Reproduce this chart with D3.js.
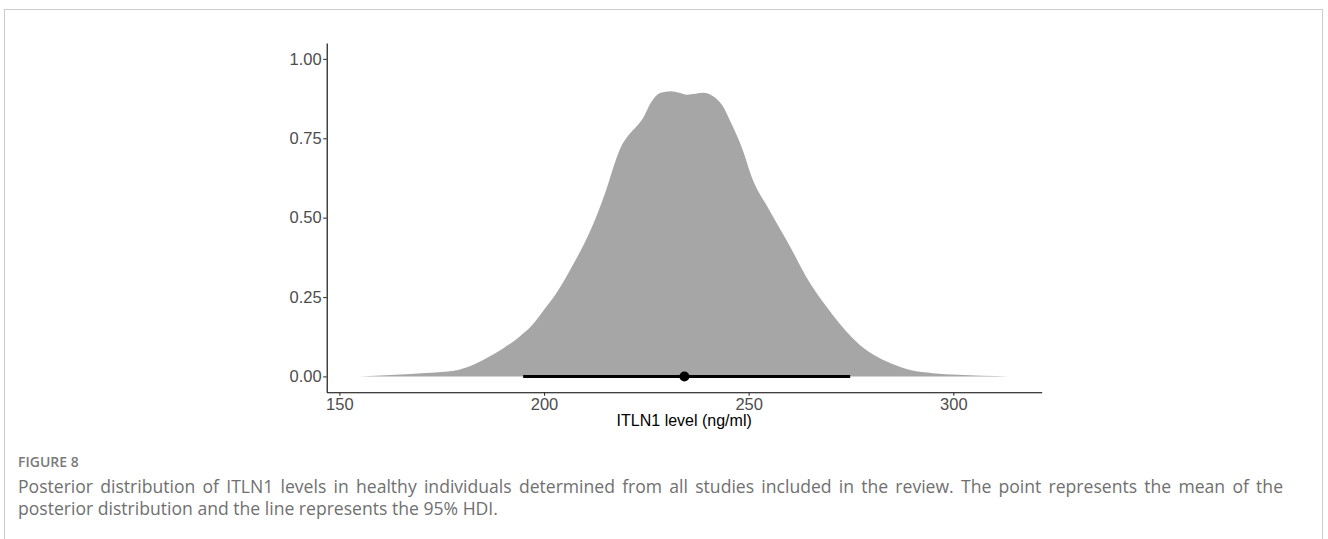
<!DOCTYPE html>
<html>
<head>
<meta charset="utf-8">
<script src="https://cdn.jsdelivr.net/npm/d3@7"></script>
<style>
  html, body { margin: 0; padding: 0; background: #fff; }
  svg { display: block; }
</style>
</head>
<body>
<svg id="chart" width="1328" height="539"></svg>
<script>
// ---- Data ----
const xValues = [155, 160, 165, 170, 175, 178, 182, 186, 190, 194, 197, 200, 203, 207, 211, 215, 217.5, 219, 220.5, 224, 226.5, 228.5, 231, 233, 235, 237, 239, 241, 243.5, 246, 248.5, 251, 255, 260.5, 264, 269, 275, 278, 280.5, 285, 289.5, 295, 301, 307, 313.5];
const densityValues = [0, 0.003, 0.006, 0.010, 0.014, 0.018, 0.033, 0.058, 0.088, 0.125, 0.16, 0.21, 0.262, 0.35, 0.45, 0.58, 0.68, 0.728, 0.757, 0.81, 0.87, 0.893, 0.898, 0.893, 0.887, 0.89, 0.893, 0.885, 0.855, 0.79, 0.715, 0.62, 0.525, 0.40, 0.315, 0.22, 0.126, 0.09, 0.068, 0.04, 0.02, 0.01, 0.005, 0.002, 0];
const hdiBounds = [194.9, 274.8];
const meanValue = 234.3;
const xTickValues = [150, 200, 250, 300];
const yTickValues = [0, 0.25, 0.5, 0.75, 1];
const xTitle = "ITLN1 level (ng/ml)";
const figureLabel = "FIGURE 8";
const captionLines = [
  "Posterior distribution of ITLN1 levels in healthy individuals determined from all studies included in the review. The point represents the mean of the",
  "posterior distribution and the line represents the 95% HDI."
];

// ---- Layout ----
const svg = d3.select("#chart");
const panel = { left: 326.7, right: 1041.7, top: 43, bottom: 392.3 };

// frame
svg.append("rect")
  .attr("x", 4.5).attr("y", 9.5)
  .attr("width", 1318).attr("height", 600)
  .attr("fill", "none").attr("stroke", "#cccccc").attr("stroke-width", 1);

const x = d3.scaleLinear().domain([146.9, 321.6]).range([panel.left, panel.right]);
const y = d3.scaleLinear().domain([-0.05, 1.05]).range([panel.bottom, panel.top]);

const pts = xValues.map((v, i) => ({ v, d: densityValues[i] }));

// slab
const area = d3.area()
  .x(p => x(p.v))
  .y0(y(0))
  .y1(p => y(p.d))
  .curve(d3.curveMonotoneX);

svg.append("path")
  .datum(pts)
  .attr("d", area)
  .attr("fill", "#a6a6a6");

// interval
svg.append("line")
  .attr("x1", x(hdiBounds[0])).attr("x2", x(hdiBounds[1]))
  .attr("y1", y(0)).attr("y2", y(0))
  .attr("stroke", "#000").attr("stroke-width", 3);

svg.append("circle")
  .attr("cx", x(meanValue)).attr("cy", y(0)).attr("r", 5)
  .attr("fill", "#000");

// axes
const font = "'Liberation Sans', Arial, sans-serif";

const yAxis = svg.append("g")
  .attr("transform", `translate(${panel.left},0)`)
  .call(d3.axisLeft(y).tickValues(yTickValues).tickFormat(d3.format(".2f")).tickSize(3.5).tickSizeOuter(0).tickPadding(1.5));

const xAxis = svg.append("g")
  .attr("transform", `translate(0,${panel.bottom})`)
  .call(d3.axisBottom(x).tickValues(xTickValues).tickFormat(d3.format("d")).tickSize(3.5).tickSizeOuter(0).tickPadding(2));

[yAxis, xAxis].forEach(g => {
  g.select(".domain").attr("stroke", "#000").attr("stroke-width", 1.1);
  g.selectAll(".tick line").attr("stroke", "#333").attr("stroke-width", 1.1);
  g.selectAll(".tick text")
    .attr("fill", "#4d4d4d")
    .style("font-family", font)
    .style("font-size", "16.5px");
});

svg.append("text")
  .attr("x", (panel.left + panel.right) / 2)
  .attr("y", 426)
  .attr("text-anchor", "middle")
  .style("font-family", font)
  .style("font-size", "16px")
  .attr("fill", "#000")
  .text(xTitle);

// caption
const capFont = "'Open Sans', Lato, sans-serif";
svg.append("text")
  .attr("x", 18).attr("y", 467)
  .style("font-family", "'Open Sans', sans-serif")
  .style("font-size", "14px")
  .style("font-weight", "600")
  .attr("fill", "#7a7a7a")
  .text(figureLabel);

const capTexts = svg.selectAll("text.cap")
  .data(captionLines)
  .enter().append("text")
  .attr("class", "cap")
  .attr("x", 18)
  .attr("y", (d, i) => 493 + i * 21.5)
  .style("font-family", capFont)
  .style("font-size", "16px")
  .attr("fill", "#707070")
  .text(d => d);

// justified caption: last line keeps natural width, first line stretched
const nodes = capTexts.nodes();
const lastTarget = 480;   // natural width of last line in the reference
const fullTarget = 1265;  // justified line width
const w2 = nodes[1].getComputedTextLength();
const fs = Math.max(14, Math.min(19, 16 * lastTarget / w2));
capTexts.style("font-size", fs.toFixed(2) + "px");
const w1 = nodes[0].getComputedTextLength();
const spaces = (captionLines[0].match(/ /g) || []).length;
const ws = Math.max(0, (fullTarget - w1) / spaces);
d3.select(nodes[0]).style("word-spacing", ws.toFixed(2) + "px");
</script>
</body>
</html>
